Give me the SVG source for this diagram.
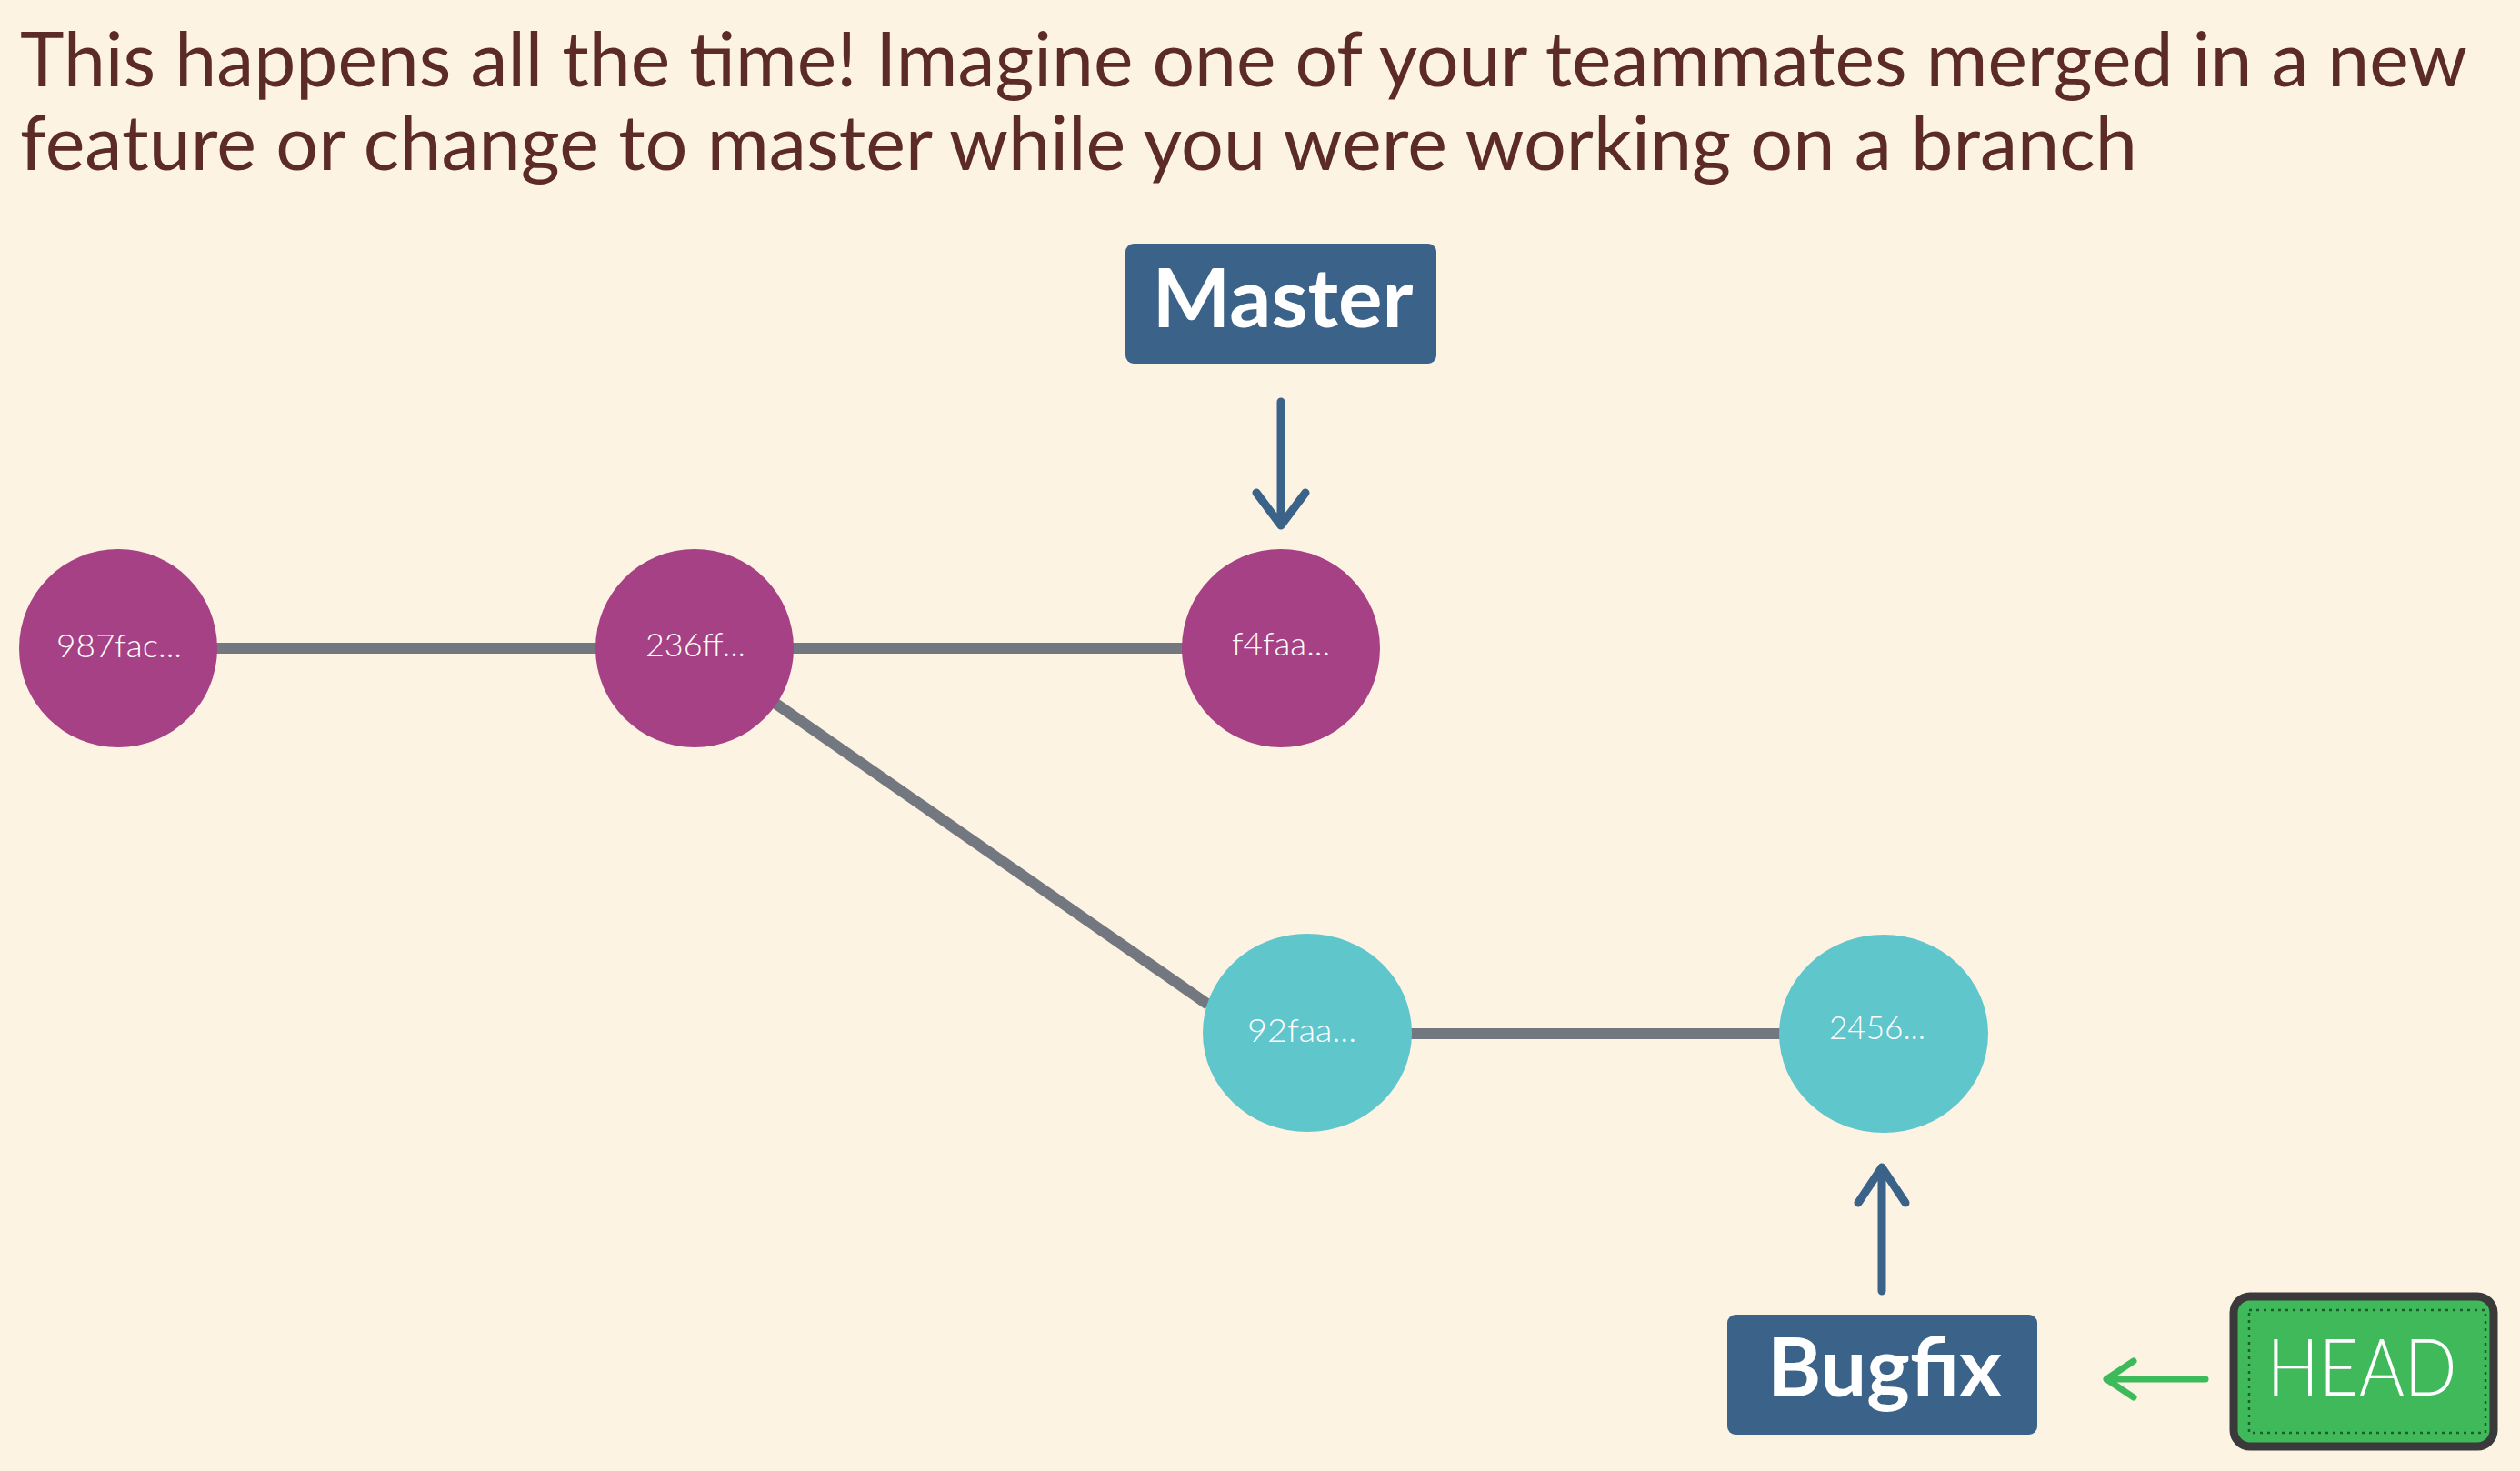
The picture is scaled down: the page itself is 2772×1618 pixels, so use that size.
<svg xmlns="http://www.w3.org/2000/svg" width="2772" height="1618" viewBox="0 0 2772 1618">
<defs>
<style>
.title{font-family:Lato,"Liberation Sans",sans-serif;font-weight:400;font-size:84px;fill:#5b2a29}
.commit-m{fill:#a64185}
.commit-b{fill:#5fc6cc}
.clabel{font-family:Lato,"Liberation Sans",sans-serif;font-weight:300;font-size:35px;fill:#ffffff;text-anchor:middle}
.edge{stroke:#737780;stroke-width:12;fill:none}
.branch{fill:#3b6389}
.blabel{font-family:Lato,"Liberation Sans",sans-serif;font-weight:700;font-size:90px;fill:#ffffff;text-anchor:middle}
.ptr{stroke:#3b6389;stroke-width:9;fill:none;stroke-linecap:round;stroke-linejoin:round}
.hptr{stroke:#3dba5a;stroke-width:7;fill:none;stroke-linecap:round;stroke-linejoin:round}
.hlabel{font-family:Lato,"Liberation Sans",sans-serif;font-weight:300;font-size:86px;fill:#ffffff;text-anchor:middle}
</style>
</defs>
<rect x="0" y="0" width="2772" height="1618" fill="#fdf3e3"/>
<g id="title">
<text class="title" x="22" y="95" textLength="2692" lengthAdjust="spacingAndGlyphs">This happens all the time! Imagine one of your teammates merged in a new</text>
<text class="title" x="22" y="187" textLength="2329" lengthAdjust="spacingAndGlyphs">feature or change to master while you were working on a branch</text>
</g>
<g id="connectors">
<line class="edge" x1="236" y1="713" x2="658" y2="713"/>
<line class="edge" x1="869" y1="713" x2="1302" y2="713"/>
<line class="edge" x1="852" y1="773" x2="1329" y2="1105"/>
<line class="edge" x1="1541" y1="1137" x2="1958" y2="1137"/>
<path class="ptr" d="M1409 442 L1409 578 M1382 542 L1409 578 L1436 542"/>
<path class="ptr" d="M2070 1420 L2070 1284 M2044 1323 L2070 1284 L2096 1323"/>
<path class="hptr" d="M2426 1517 L2317 1517 M2347 1497 L2317 1517 L2347 1537"/>
</g>
<g id="c987fac">
<circle class="commit-m" cx="130" cy="713" r="109"/>
<text class="clabel" x="131" y="723" textLength="138" lengthAdjust="spacingAndGlyphs">987fac...</text>
</g>
<g id="c236ff">
<circle class="commit-m" cx="764" cy="713" r="109"/>
<text class="clabel" x="765" y="722" textLength="110" lengthAdjust="spacingAndGlyphs">236ff...</text>
</g>
<g id="cf4faa">
<circle class="commit-m" cx="1409" cy="713" r="109"/>
<text class="clabel" x="1409" y="721" textLength="108" lengthAdjust="spacingAndGlyphs">f4faa...</text>
</g>
<g id="c92faa">
<ellipse class="commit-b" cx="1438" cy="1136" rx="115" ry="109"/>
<text class="clabel" x="1432" y="1146" textLength="120" lengthAdjust="spacingAndGlyphs">92faa...</text>
</g>
<g id="c2456">
<ellipse class="commit-b" cx="2072" cy="1137" rx="115" ry="109"/>
<text class="clabel" x="2065" y="1143" textLength="106" lengthAdjust="spacingAndGlyphs">2456...</text>
</g>
<g id="master">
<rect class="branch" x="1238" y="268" width="342" height="132" rx="9"/>
<text class="blabel" x="1411" y="360" textLength="287" lengthAdjust="spacingAndGlyphs">Master</text>
</g>
<g id="bugfix">
<rect class="branch" x="1900" y="1446" width="341" height="132" rx="9"/>
<text class="blabel" x="2073" y="1536" textLength="258" lengthAdjust="spacingAndGlyphs">Bugfix</text>
</g>
<g id="head">
<rect x="2457" y="1426" width="286" height="165" rx="18" fill="#3fb95a" stroke="#3a3a3a" stroke-width="9"/>
<rect x="2474" y="1441" width="260" height="135" fill="none" stroke="#1d5e2c" stroke-width="2.5" stroke-dasharray="3 5"/>
<text class="hlabel" x="2598" y="1535" textLength="209" lengthAdjust="spacingAndGlyphs">HEAD</text>
</g>
</svg>
